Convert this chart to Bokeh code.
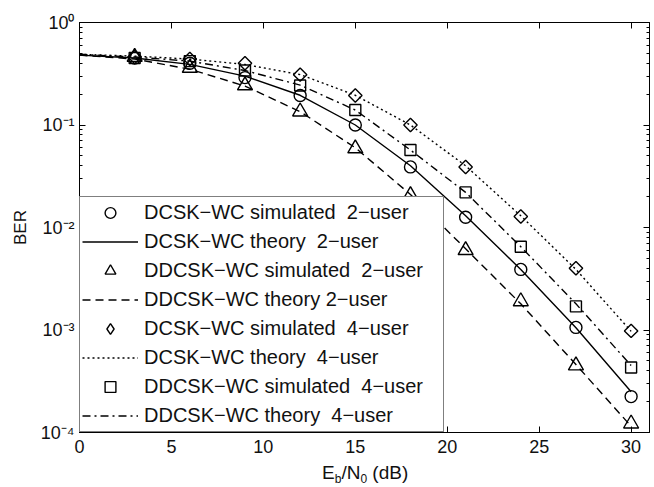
from bokeh.plotting import figure
from bokeh.models import (FixedTicker, LogAxis, LinearAxis, Legend, LegendItem, Range1d, Div)
from bokeh.layouts import column
from bokeh.embed import file_html
from bokeh.resources import INLINE
import math

# ---- data ----
snr_theory = [0, 3, 6, 9, 12, 15, 18, 21, 24, 27, 30]
snr_sim = [3, 6, 9, 12, 15, 18, 21, 24, 27, 30]

dcsk2_sim = [0.45, 0.40, 0.29, 0.194, 0.10, 0.039, 0.0126, 0.0039, 0.00106, 0.000224]
dcsk2_th = [0.48, 0.45, 0.39, 0.30, 0.195, 0.10, 0.040, 0.013, 0.0039, 0.00105, 0.00025]
ddcsk2_sim = [0.46, 0.36, 0.243, 0.135, 0.059, 0.0206, 0.006, 0.0019, 0.00045, 0.000122]
ddcsk2_th = [0.48, 0.44, 0.35, 0.24, 0.135, 0.06, 0.021, 0.0062, 0.0018, 0.00046, 0.000115]
dcsk4_sim = [0.46, 0.44, 0.40, 0.31, 0.194, 0.10, 0.039, 0.0128, 0.004, 0.00098]
dcsk4_th = [0.49, 0.47, 0.44, 0.39, 0.31, 0.195, 0.10, 0.04, 0.013, 0.0039, 0.00097]
ddcsk4_sim = [0.45, 0.42, 0.34, 0.243, 0.14, 0.057, 0.022, 0.0065, 0.0017, 0.00043]
ddcsk4_th = [0.49, 0.46, 0.42, 0.34, 0.245, 0.14, 0.057, 0.022, 0.0065, 0.0018, 0.00045]

legend_labels = [
    "DCSK\u2212WC simulated  2\u2212user",
    "DCSK\u2212WC theory  2\u2212user",
    "DDCSK\u2212WC simulated  2\u2212user",
    "DDCSK\u2212WC theory 2\u2212user",
    "DCSK\u2212WC simulated  4\u2212user",
    "DCSK\u2212WC theory  4\u2212user",
    "DDCSK\u2212WC simulated  4\u2212user",
    "DDCSK\u2212WC theory  4\u2212user",
]

x_ticks = [0, 5, 10, 15, 20, 25, 30]
y_ticks = [1e-4, 1e-3, 1e-2, 1e-1, 1.0]
y_tick_labels = ["10\u207b\u2074", "10\u207b\u00b3", "10\u207b\u00b2", "10\u207b\u00b9", "10\u2070"]
y_minor = [m * d for d in [1e-4, 1e-3, 1e-2, 1e-1] for m in range(2, 10)]

FONT = "Liberation Sans"
TXT = "#111111"

p = figure(width=654, height=460, x_range=Range1d(0, 31), y_range=Range1d(1e-4, 1),
           y_axis_type="log", output_backend="svg", toolbar_location=None,
           min_border_left=79, min_border_right=5, min_border_top=22, min_border_bottom=28)
p.grid.visible = False
p.outline_line_color = "black"
p.outline_line_width = 1
p.background_fill_color = "white"
p.border_fill_color = "white"

# axes styling
xax = p.xaxis[0]
xax.ticker = FixedTicker(ticks=x_ticks)
yax = p.yaxis[0]
yax.ticker = FixedTicker(ticks=y_ticks, minor_ticks=y_minor)
yax.major_label_overrides = {t: l for t, l in zip(y_ticks, y_tick_labels)}
for ax in (xax, yax):
    ax.major_tick_in = 6
    ax.major_tick_out = 0
    ax.minor_tick_in = 3
    ax.minor_tick_out = 0
    ax.axis_line_color = "black"
    ax.major_tick_line_color = "black"
    ax.minor_tick_line_color = "black"
    ax.major_label_text_font = FONT
    ax.major_label_text_font_size = "18px"
    ax.major_label_text_color = TXT
xax.major_label_standoff = 7
yax.major_label_standoff = 5
yax.axis_label = "BER"
yax.axis_label_text_font = FONT
yax.axis_label_text_font_size = "17px"
yax.axis_label_text_font_style = "normal"
yax.axis_label_text_color = TXT
yax.axis_label_standoff = 8

top = LinearAxis(ticker=FixedTicker(ticks=x_ticks))
right = LogAxis(ticker=FixedTicker(ticks=y_ticks, minor_ticks=y_minor))
for ax in (top, right):
    ax.major_tick_in = 6
    ax.major_tick_out = 0
    ax.minor_tick_in = 3
    ax.minor_tick_out = 0
    ax.major_label_text_font_size = "0px"
    ax.major_label_text_alpha = 0
    ax.axis_line_color = "black"
    ax.major_tick_line_color = "black"
    ax.minor_tick_line_color = "black"
    ax.major_label_standoff = 0
p.add_layout(top, "above")
p.add_layout(right, "right")
top.minor_tick_in = 0

LW = 1.4
r_c = p.scatter(snr_sim, dcsk2_sim, marker="circle", size=12, fill_color=None, line_color="black", line_width=LW)
r_l1 = p.line(snr_theory, dcsk2_th, line_color="black", line_width=LW)
r_t = p.scatter(snr_sim, ddcsk2_sim, marker="triangle", size=15, fill_color=None, line_color="black", line_width=LW)
r_l2 = p.line(snr_theory, ddcsk2_th, line_color="black", line_width=LW, line_dash="8 5")
r_d = p.scatter(snr_sim, dcsk4_sim, marker="square", angle=math.pi / 4, size=9.5, fill_color=None,
                line_color="black", line_width=LW)
r_l3 = p.line(snr_theory, dcsk4_th, line_color="black", line_width=LW, line_dash="2 3")
r_s = p.scatter(snr_sim, ddcsk4_sim, marker="square", size=11, fill_color=None, line_color="black", line_width=LW)
r_l4 = p.line(snr_theory, ddcsk4_th, line_color="black", line_width=LW, line_dash="8 4 2 4")
# hidden twin of the diamond series so the legend shows a diamond glyph
r_d_leg = p.scatter(snr_sim, dcsk4_sim, marker="diamond", size=14, fill_color=None,
                    line_color="black", line_width=LW, visible=False)

renderers = [r_c, r_l1, r_t, r_l2, r_d_leg, r_l3, r_s, r_l4]
items = [LegendItem(label=lab, renderers=[r]) for lab, r in zip(legend_labels, renderers)]
legend = Legend(items=items, location="bottom_left", margin=0, padding=2,
                spacing=2, glyph_width=56, glyph_height=27, label_height=27,
                label_width=297, label_standoff=6,
                label_text_font=FONT, label_text_font_size="20px", label_text_color=TXT,
                border_line_color="black", border_line_width=1.2,
                background_fill_color="white", background_fill_alpha=1,
                inactive_fill_alpha=0)
p.add_layout(legend, "center")

# x-axis label with subscripts, as real HTML text below the plot
xlabel_html = (
    "<div style=\"margin:0;padding:3px 0 0 322px;font-family:'Liberation Sans';font-size:19px;"
    "line-height:20px;color:#111111;white-space:nowrap\">"
    "E<sub style=\"font-size:12px;vertical-align:-4px;line-height:0\">b</sub>/N"
    "<sub style=\"font-size:12px;vertical-align:-4px;line-height:0\">0</sub> (dB)</div>"
)
xlabel = Div(text=xlabel_html, width=654, height=27, margin=(0, 0, 0, 0))

layout = column(p, xlabel, spacing=0)
open("out.html", "w").write(file_html(layout, INLINE))
